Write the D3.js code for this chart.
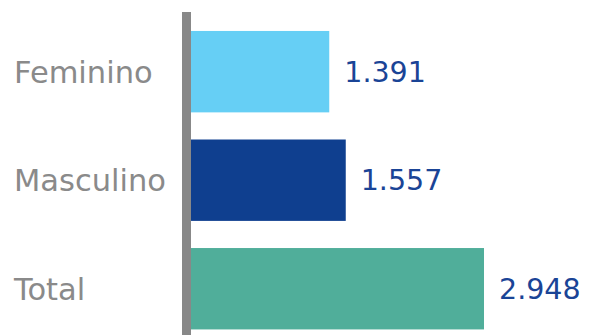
<!DOCTYPE html>
<html>
<head>
<meta charset="utf-8">
<script src="https://cdn.jsdelivr.net/npm/d3@7"></script>
<style>
  html, body { margin: 0; padding: 0; background: #fff; }
  svg { display: block; }
  text { font-family: "DejaVu Sans", sans-serif; }
</style>
</head>
<body>
<div id="chart"></div>
<script>
const categories = ['Feminino', 'Masculino', 'Total'];
const values = [1391, 1557, 2948];
const valueLabels = ['1.391', '1.557', '2.948'];
const barColors = ['#66cff5', '#0f3f8f', '#50ae9a'];

const width = 602;
const height = 335;
const axisX = 182;
const axisW = 9;
const barX0 = axisX + axisW;

const svg = d3.select('#chart').append('svg')
  .attr('width', width)
  .attr('height', height);

const x = d3.scaleLinear()
  .domain([0, 2948])
  .range([0, 293]);

const y = d3.scaleBand()
  .domain(categories)
  .range([17.4, 343])
  .paddingInner(0.25)
  .paddingOuter(0.125);

svg.selectAll('rect.bar')
  .data(categories)
  .join('rect')
  .attr('class', 'bar')
  .attr('x', barX0)
  .attr('y', d => y(d))
  .attr('width', (d, i) => x(values[i]))
  .attr('height', y.bandwidth())
  .attr('fill', (d, i) => barColors[i]);

// vertical axis line
svg.append('rect')
  .attr('x', axisX)
  .attr('y', 12)
  .attr('width', axisW)
  .attr('height', height - 12)
  .attr('fill', '#888888');

svg.selectAll('text.cat')
  .data(categories)
  .join('text')
  .attr('class', 'cat')
  .attr('x', 14)
  .attr('y', d => y(d) + y.bandwidth() / 2)
  .attr('dy', '0.36em')
  .attr('font-size', 30.5)
  .attr('fill', '#8a8a8a')
  .text(d => d);

svg.selectAll('text.val')
  .data(categories)
  .join('text')
  .attr('class', 'val')
  .attr('x', (d, i) => barX0 + x(values[i]) + 15)
  .attr('y', d => y(d) + y.bandwidth() / 2)
  .attr('dy', '0.36em')
  .attr('font-size', 28.5)
  .attr('fill', '#1a4496')
  .text((d, i) => valueLabels[i]);
</script>
</body>
</html>
